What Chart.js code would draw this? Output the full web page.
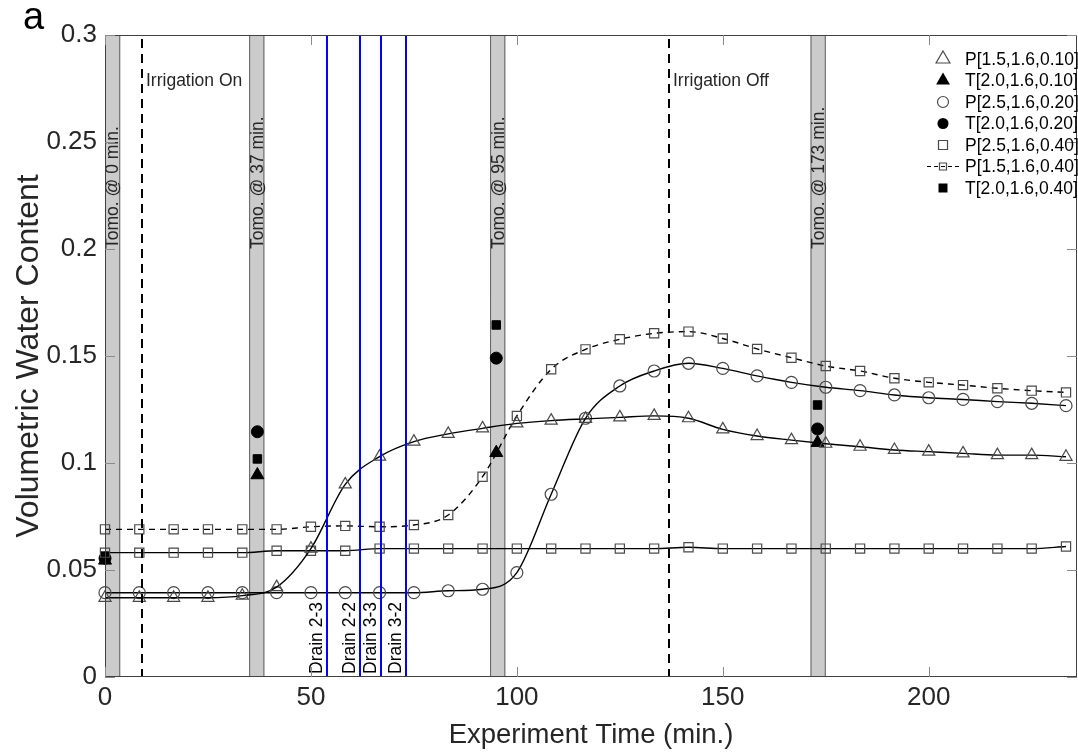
<!DOCTYPE html>
<html>
<head>
<meta charset="utf-8">
<script src="https://cdn.jsdelivr.net/npm/chart.js@4.4.1/dist/chart.umd.min.js"></script>
<style>
html, body { margin: 0; padding: 0; background: #fff; }
</style>
</head>
<body>
<canvas id="chart" width="1078" height="753"></canvas>
<script>
// sensor readings every ~8.3 min
const times = [0, 8.33, 16.67, 25, 33.33, 41.67, 50, 58.33, 66.67, 75, 83.33, 91.67, 100, 108.33,
  116.67, 125, 133.33, 141.67, 150, 158.33, 166.67, 175, 183.33, 191.67, 200, 208.33, 216.67, 225, 233.33];

const p15_010 = [0.037, 0.037, 0.037, 0.037, 0.038, 0.042, 0.060, 0.090, 0.103, 0.110, 0.1136, 0.1162, 0.1185, 0.1198,
  0.1206, 0.1213, 0.122, 0.1209, 0.1157, 0.1126, 0.1107, 0.109, 0.1076, 0.1061, 0.1053, 0.1045, 0.1037, 0.1037, 0.1029];
const p25_020 = [0.0394, 0.0394, 0.0394, 0.0394, 0.0394, 0.0394, 0.0394, 0.0394, 0.0394, 0.0394, 0.0403, 0.041, 0.0488, 0.0854,
  0.1209, 0.136, 0.143, 0.1466, 0.1442, 0.1407, 0.1377, 0.1354, 0.1338, 0.1318, 0.1305, 0.1297, 0.1287, 0.1279, 0.1268];
const p25_040 = [0.0581, 0.0581, 0.0581, 0.0581, 0.0581, 0.059, 0.059, 0.059, 0.060, 0.060, 0.060, 0.060, 0.060, 0.060,
  0.060, 0.060, 0.060, 0.0606, 0.060, 0.060, 0.060, 0.060, 0.060, 0.060, 0.060, 0.060, 0.060, 0.060, 0.061];
const p15_040 = [0.069, 0.069, 0.069, 0.069, 0.069, 0.069, 0.0702, 0.0706, 0.0702, 0.071, 0.0757, 0.0936, 0.122, 0.1438,
  0.1531, 0.1578, 0.1606, 0.1614, 0.1582, 0.1533, 0.1492, 0.1453, 0.143, 0.1396, 0.1377, 0.1364, 0.1349, 0.1338, 0.133];

// tomography estimates
const tomoTimes = [0, 37, 95, 173];
const t20_010 = [0.0545, 0.0944, 0.1048, 0.1095];
const t20_020 = [0.0555, 0.1146, 0.149, 0.1159];
const t20_040 = [0.0565, 0.1019, 0.1645, 0.1271];

const tomoBands = [[0, 3.7], [35, 38.7], [93.5, 97.2], [171.3, 175]];
const tomoLabels = ['Tomo. @ 0 min.', 'Tomo. @ 37 min.', 'Tomo. @ 95 min.', 'Tomo. @ 173 min.'];
const irrigationTimes = [9, 137];
const irrigationLabels = ['Irrigation On', 'Irrigation Off'];
const drainTimes = [54, 62, 67.1, 73];
const drainLabels = ['Drain 2-3', 'Drain 2-2', 'Drain 3-3', 'Drain 3-2'];

const xTicks = [0, 50, 100, 150, 200];
const yTicks = [0, 0.05, 0.1, 0.15, 0.2, 0.25, 0.3];

const FONT = '"Liberation Sans", Arial, Helvetica, sans-serif';
const TEXT = '#262626';
const MARK = '#4a4a4a';

function pts(xs, ys) {
    return ys.map((v, i) => ({ x: xs[i], y: v }));
}

function probeSet(label, values, style, dashed) {
    return {
        label: label,
        data: pts(times, values),
        showLine: true,
        borderColor: '#000',
        borderWidth: 1.4,
        borderDash: dashed ? [6, 5] : [],
        cubicInterpolationMode: 'monotone',
        pointStyle: style,
        pointRadius: style === 'triangle' ? 7 : (style === 'rect' ? 6.5 : 6),
        pointBorderColor: MARK,
        pointBorderWidth: 1.2,
        pointBackgroundColor: 'rgba(0,0,0,0)',
        clip: false
    };
}

function tomoSet(label, values, style) {
    return {
        label: label,
        data: pts(tomoTimes, values),
        showLine: false,
        pointStyle: style,
        pointRadius: style === 'triangle' ? 7.5 : 6,
        pointBorderColor: '#000',
        pointBorderWidth: 1,
        pointBackgroundColor: '#000',
        clip: false
    };
}

const datasets = [
    probeSet('P[1.5,1.6,0.10]', p15_010, 'triangle', false),
    probeSet('P[2.5,1.6,0.20]', p25_020, 'circle', false),
    probeSet('P[2.5,1.6,0.40]', p25_040, 'rect', false),
    probeSet('P[1.5,1.6,0.40]', p15_040, 'rect', true),
    tomoSet('T[2.0,1.6,0.10]', t20_010, 'triangle'),
    tomoSet('T[2.0,1.6,0.20]', t20_020, 'circle'),
    tomoSet('T[2.0,1.6,0.40]', t20_040, 'rect')
];

// legend order as in the figure
const legendItems = [
    { label: 'P[1.5,1.6,0.10]', style: 'triangle', filled: false },
    { label: 'T[2.0,1.6,0.10]', style: 'triangle', filled: true },
    { label: 'P[2.5,1.6,0.20]', style: 'circle', filled: false },
    { label: 'T[2.0,1.6,0.20]', style: 'circle', filled: true },
    { label: 'P[2.5,1.6,0.40]', style: 'rect', filled: false },
    { label: 'P[1.5,1.6,0.40]', style: 'rect', filled: false, line: true },
    { label: 'T[2.0,1.6,0.40]', style: 'rect', filled: true }
];

function drawMarker(ctx, style, x, y, r, filled) {
    ctx.save();
    ctx.beginPath();
    if (style === 'triangle') {
        ctx.moveTo(x, y - r);
        ctx.lineTo(x + r * 0.866, y + r * 0.5);
        ctx.lineTo(x - r * 0.866, y + r * 0.5);
        ctx.closePath();
    } else if (style === 'circle') {
        ctx.arc(x, y, r, 0, Math.PI * 2);
    } else {
        ctx.rect(x - r, y - r, 2 * r, 2 * r);
    }
    if (filled) {
        ctx.fillStyle = '#000';
        ctx.fill();
    } else {
        ctx.strokeStyle = MARK;
        ctx.lineWidth = 1.2;
        ctx.stroke();
    }
    ctx.restore();
}

const backdrop = {
    id: 'backdrop',
    beforeDatasetsDraw(chart) {
        const { ctx, chartArea, scales } = chart;
        const x = scales.x, y = scales.y;
        ctx.save();
        tomoBands.forEach((b, i) => {
            const x0 = x.getPixelForValue(b[0]);
            const x1 = x.getPixelForValue(b[1]);
            ctx.fillStyle = '#cbcbcb';
            ctx.fillRect(x0, chartArea.top, x1 - x0, chartArea.bottom - chartArea.top);
            ctx.strokeStyle = '#606060';
            ctx.lineWidth = 1;
            ctx.beginPath();
            ctx.moveTo(x0 + 0.5, chartArea.top);
            ctx.lineTo(x0 + 0.5, chartArea.bottom);
            ctx.moveTo(x1 - 0.5, chartArea.top);
            ctx.lineTo(x1 - 0.5, chartArea.bottom);
            ctx.stroke();
            // label reads bottom to top, starting near 0.2
            ctx.save();
            ctx.translate((x0 + x1) / 2, y.getPixelForValue(0.2));
            ctx.rotate(-Math.PI / 2);
            ctx.fillStyle = TEXT;
            ctx.font = '17.5px ' + FONT;
            ctx.textAlign = 'left';
            ctx.textBaseline = 'middle';
            ctx.fillText(tomoLabels[i], 0, 1);
            ctx.restore();
        });
        ctx.restore();
    },
    afterDatasetsDraw(chart) {
        const { ctx, chartArea, scales } = chart;
        const x = scales.x;
        ctx.save();
        // irrigation on / off
        irrigationTimes.forEach((t, i) => {
            const px = Math.round(x.getPixelForValue(t));
            ctx.strokeStyle = '#000';
            ctx.lineWidth = 2;
            ctx.setLineDash([9, 6]);
            ctx.beginPath();
            ctx.moveTo(px, chartArea.top + 4);
            ctx.lineTo(px, chartArea.bottom);
            ctx.stroke();
            ctx.setLineDash([]);
            ctx.fillStyle = TEXT;
            ctx.font = '17.5px ' + FONT;
            ctx.textAlign = 'left';
            ctx.textBaseline = 'middle';
            ctx.fillText(irrigationLabels[i], px + 4, 81);
        });
        // drains
        drainTimes.forEach((t, i) => {
            const px = Math.round(x.getPixelForValue(t));
            ctx.strokeStyle = '#0000ff';
            ctx.lineWidth = 2;
            ctx.beginPath();
            ctx.moveTo(px, chartArea.top);
            ctx.lineTo(px, chartArea.bottom);
            ctx.stroke();
            ctx.save();
            ctx.translate(px - 5, chartArea.bottom - 3);
            ctx.rotate(-Math.PI / 2);
            ctx.fillStyle = '#000';
            ctx.font = '17.5px ' + FONT;
            ctx.textAlign = 'left';
            ctx.textBaseline = 'alphabetic';
            ctx.fillText(drainLabels[i], 0, 0);
            ctx.restore();
        });
        ctx.restore();
    },
    afterDraw(chart) {
        const { ctx, chartArea, scales } = chart;
        const x = scales.x, y = scales.y;
        const L = chartArea.left, R = chartArea.right, T = chartArea.top, B = chartArea.bottom;
        ctx.save();
        // box
        ctx.strokeStyle = '#404040';
        ctx.lineWidth = 1;
        ctx.strokeRect(L + 0.5, T + 0.5, R - L - 1, B - T - 1);
        // inward ticks
        ctx.strokeStyle = '#8a8a8a';
        ctx.beginPath();
        xTicks.forEach(v => {
            const px = Math.round(x.getPixelForValue(v)) + 0.5;
            ctx.moveTo(px, B); ctx.lineTo(px, B - 10);
            ctx.moveTo(px, T); ctx.lineTo(px, T + 10);
        });
        yTicks.forEach(v => {
            const py = Math.round(y.getPixelForValue(v)) + 0.5;
            ctx.moveTo(L, py); ctx.lineTo(L + 10, py);
            ctx.moveTo(R, py); ctx.lineTo(R - 10, py);
        });
        ctx.stroke();

        // legend
        const mx = 943, tx = 965;
        ctx.font = '17.5px ' + FONT;
        ctx.textAlign = 'left';
        ctx.textBaseline = 'middle';
        legendItems.forEach((it, i) => {
            const ly = 59 + i * 21.5;
            if (it.line) {
                ctx.strokeStyle = '#000';
                ctx.lineWidth = 1;
                ctx.setLineDash([4, 3]);
                ctx.beginPath();
                ctx.moveTo(927, ly); ctx.lineTo(960, ly);
                ctx.stroke();
                ctx.setLineDash([]);
                drawMarker(ctx, it.style, mx, ly, 3.5, false);
            } else {
                drawMarker(ctx, it.style, mx, ly, it.style === 'triangle' ? 8 : (it.style === 'rect' ? 4.5 : 5.5), it.filled);
            }
            ctx.fillStyle = '#000';
            ctx.fillText(it.label, tx, ly + 1);
        });

        // panel letter
        ctx.fillStyle = '#000';
        ctx.font = '38px ' + FONT;
        ctx.textBaseline = 'alphabetic';
        ctx.fillText('a', 23, 29);
        ctx.restore();
    }
};

function tickText(v) {
    return String(parseFloat(Number(v).toFixed(2)));
}

new Chart(document.getElementById('chart'), {
    type: 'scatter',
    data: { datasets: datasets },
    options: {
        responsive: false,
        animation: false,
        devicePixelRatio: 1,
        layout: { autoPadding: false, padding: { top: 35, right: 1, left: 0, bottom: 0 } },
        plugins: { legend: { display: false }, tooltip: { enabled: false } },
        scales: {
            x: {
                type: 'linear',
                min: 0,
                max: 236,
                afterFit: s => { s.height = 76; s.paddingLeft = 0; s.paddingRight = 0; },
                afterBuildTicks: s => { s.ticks = xTicks.map(v => ({ value: v })); },
                grid: { display: false, drawTicks: false },
                border: { display: false },
                ticks: { color: TEXT, padding: 5, callback: tickText, font: { family: FONT, size: 26 } },
                title: { display: true, text: 'Experiment Time (min.)', color: TEXT, padding: { top: 0, bottom: 1 }, font: { family: FONT, size: 27.5 } }
            },
            y: {
                min: 0,
                max: 0.3,
                afterFit: s => { s.width = 105; s.paddingTop = 0; s.paddingBottom = 0; },
                afterBuildTicks: s => { s.ticks = yTicks.map(v => ({ value: v })); },
                grid: { display: false, drawTicks: false },
                border: { display: false },
                ticks: { color: TEXT, padding: 8, callback: tickText, font: { family: FONT, size: 26 } },
                title: { display: true, text: 'Volumetric Water Content', color: TEXT, padding: { top: 10, bottom: 0 }, font: { family: FONT, size: 32 } }
            }
        }
    },
    plugins: [backdrop]
});
</script>
</body>
</html>
